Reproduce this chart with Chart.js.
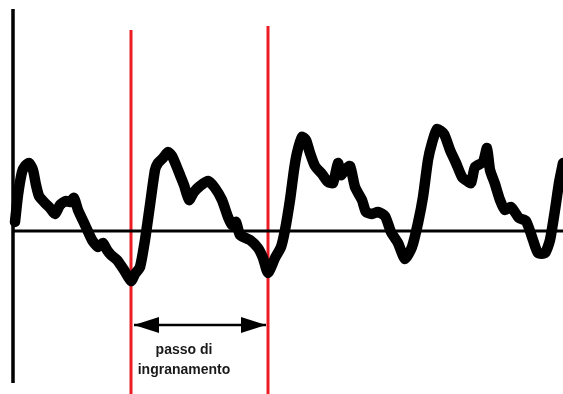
<!DOCTYPE html>
<html>
<head>
<meta charset="utf-8">
<script src="https://cdn.jsdelivr.net/npm/chart.js@4"></script>
<style>
  html, body { margin: 0; padding: 0; background: #fff; }
  #wrap { width: 563px; height: 394px; position: relative; }
</style>
</head>
<body>
<div id="wrap"><canvas id="myChart"></canvas></div>
<script>
// signal trace (x position, displacement from the zero line)
var waveX = [15, 18, 22, 25, 29, 33, 36, 39, 44, 50, 55, 60, 66, 70, 74, 78, 85, 92, 98, 103,
    107, 111, 117, 124, 131, 135, 140, 145, 150, 155, 158, 163, 168, 172, 176, 180, 184, 189, 194, 200,
    208, 215, 222, 228, 232, 236, 240, 250, 258, 263, 268, 275, 281, 285, 290, 294, 297, 302, 306, 310,
    315, 322, 328, 333, 338, 341, 345, 350, 355, 362, 366, 372, 378, 385, 391, 398, 405, 412, 418, 423,
    428, 432, 437, 444, 450, 456, 462, 467, 471, 475, 483, 487, 490, 495, 500, 505, 511, 519, 526, 533,
    538, 545, 550, 555, 559, 563];
var waveY = [9, 36, 59, 65, 68, 61, 46, 35, 29, 23, 17, 26, 30, 29, 33, 21, 6, -9, -16, -12,
    -19, -24, -29, -39, -50, -43, -36, -9, 26, 61, 68, 73, 79, 75, 66, 56, 46, 31, 39, 45,
    50, 43, 31, 14, 6, 9, -4, -9, -17, -27, -42, -27, -16, 1, 31, 61, 78, 94, 91, 78,
    65, 57, 49, 48, 68, 56, 61, 65, 44, 31, 19, 17, 19, 15, -1, -12, -28, -16, 8, 34,
    71, 88, 102, 97, 81, 68, 54, 50, 48, 64, 69, 83, 61, 47, 31, 21, 24, 13, 10, -9,
    -22, -22, -9, 21, 48, 68];

// reference lines
var axisX = 13, axisTop = 222, axisBottom = -152;
var baseStart = 13, baseEnd = 563;
var pitchStart = 131, pitchEnd = 268;
var pitchTops = [201, 205];
var lineBottom = -163;
var arrowY = -94;
var labelX = 184;
var labelLines = ['passo di', 'ingranamento'];
var labelY = [-119, -139];

function pts(xs, ys) {
    return xs.map(function(x, i) { return {x: x, y: ys[i]}; });
}

var extras = {
    id: 'extras',
    afterDatasetsDraw: function(chart) {
        var ctx = chart.ctx, sx = chart.scales.x, sy = chart.scales.y;
        var ay = sy.getPixelForValue(arrowY);
        var x1 = sx.getPixelForValue(pitchStart) + 3;
        var x2 = sx.getPixelForValue(pitchEnd) - 2;
        ctx.save();
        ctx.fillStyle = '#000';
        ctx.beginPath();
        ctx.moveTo(x1, ay);
        ctx.lineTo(x1 + 25, ay - 8);
        ctx.lineTo(x1 + 25, ay + 8);
        ctx.closePath();
        ctx.fill();
        ctx.beginPath();
        ctx.moveTo(x2, ay);
        ctx.lineTo(x2 - 25, ay - 8);
        ctx.lineTo(x2 - 25, ay + 8);
        ctx.closePath();
        ctx.fill();
        ctx.fillStyle = '#1a1a1a';
        ctx.font = 'bold 14px "Liberation Sans", Arial, sans-serif';
        ctx.textAlign = 'center';
        ctx.textBaseline = 'middle';
        labelLines.forEach(function(t, i) {
            ctx.fillText(t, sx.getPixelForValue(labelX), sy.getPixelForValue(labelY[i]));
        });
        ctx.restore();
    }
};

var ctx = document.getElementById('myChart').getContext('2d');
window.myChart = new Chart(ctx, {
    type: 'scatter',
    data: {
        datasets: [{
            data: pts([axisX, axisX], [axisTop, axisBottom]),
            showLine: true, borderColor: '#000', borderWidth: 3.5, pointRadius: 0
        }, {
            data: pts([baseStart, baseEnd], [0, 0]),
            showLine: true, borderColor: '#000', borderWidth: 3, pointRadius: 0
        }, {
            data: pts([pitchStart + 3, pitchEnd - 2], [arrowY, arrowY]),
            showLine: true, borderColor: '#000', borderWidth: 2.5, pointRadius: 0
        }, {
            data: pts(waveX, waveY),
            showLine: true, borderColor: '#000', borderWidth: 10.5, pointRadius: 0,
            tension: 0.2, borderJoinStyle: 'round', borderCapStyle: 'round'
        }, {
            data: pts([pitchStart, pitchStart], [pitchTops[0], lineBottom]),
            showLine: true, borderColor: '#ed1c24', borderWidth: 3, pointRadius: 0
        }, {
            data: pts([pitchEnd, pitchEnd], [pitchTops[1], lineBottom]),
            showLine: true, borderColor: '#ed1c24', borderWidth: 3, pointRadius: 0
        }]
    },
    options: {
        responsive: true,
        maintainAspectRatio: false,
        animation: false,
        layout: { padding: 0 },
        plugins: { legend: { display: false }, tooltip: { enabled: false } },
        scales: {
            x: { type: 'linear', min: 0, max: 563, display: false },
            y: { min: -163, max: 231, display: false }
        }
    },
    plugins: [extras]
});
</script>
</body>
</html>
